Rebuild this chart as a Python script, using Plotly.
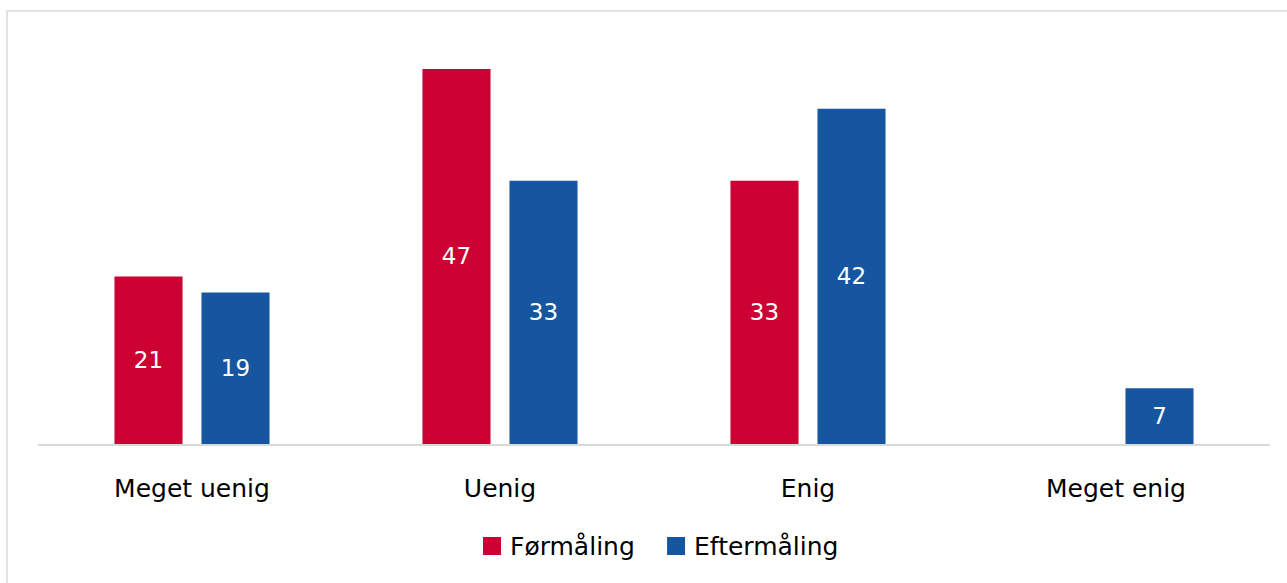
import plotly.graph_objects as go

categories = ["Meget uenig", "Uenig", "Enig", "Meget enig"]
series_names = ["Førmåling", "Eftermåling"]
foermaaling = [21, 47, 33, None]
eftermaaling = [19, 33, 42, 7]

RED = "#cc0033"
BLUE = "#1656a0"
FONT = "DejaVu Sans"

fig = go.Figure()
for name, vals, color in [(series_names[0], foermaaling, RED), (series_names[1], eftermaaling, BLUE)]:
    fig.add_trace(go.Bar(
        x=categories, y=vals, name=name, marker=dict(color=color, line=dict(width=0)),
        text=[("" if v is None else str(v)) for v in vals],
        textposition="inside", insidetextanchor="middle",
        textfont=dict(color="white", size=23, family=FONT),
        showlegend=False,
    ))

# legend drawn below the axis: square swatch + label per series
swatch_x = [0.3612, 0.5106]
for name, color, x0 in zip(series_names, [RED, BLUE], swatch_x):
    fig.add_shape(type="rect", xref="paper", yref="paper",
                  x0=x0, x1=x0 + 0.0146, y0=-0.2681, y1=-0.2246,
                  line=dict(width=0), fillcolor=color)
    fig.add_annotation(xref="paper", yref="paper", x=x0 + 0.0203, y=-0.2464,
                       xanchor="left", yanchor="middle", showarrow=False,
                       text=name, font=dict(size=25, family=FONT, color="#000000"))

# outer frame
fig.add_shape(type="rect", xref="paper", yref="paper",
              x0=-0.0252, x1=1.05, y0=-0.5, y1=1.0459,
              line=dict(color="#d9d9d9", width=1.5), fillcolor="rgba(0,0,0,0)", layer="below")

fig.update_layout(
    width=1287, height=583,
    margin=dict(l=38, r=17, t=30, b=139),
    paper_bgcolor="white", plot_bgcolor="white",
    barmode="group", bargap=0.435, bargroupgap=0.218,
    font=dict(family=FONT, color="#000000"),
    showlegend=False,
    xaxis=dict(showline=True, linecolor="#d9d9d9", linewidth=1.5, ticks="",
               tickfont=dict(size=25, family=FONT, color="#000000"), showgrid=False,
               ticklabelstandoff=21),
    yaxis=dict(range=[0, 414 / 7.98], visible=False, showgrid=False, zeroline=False),
)

fig.write_html("out.html")
